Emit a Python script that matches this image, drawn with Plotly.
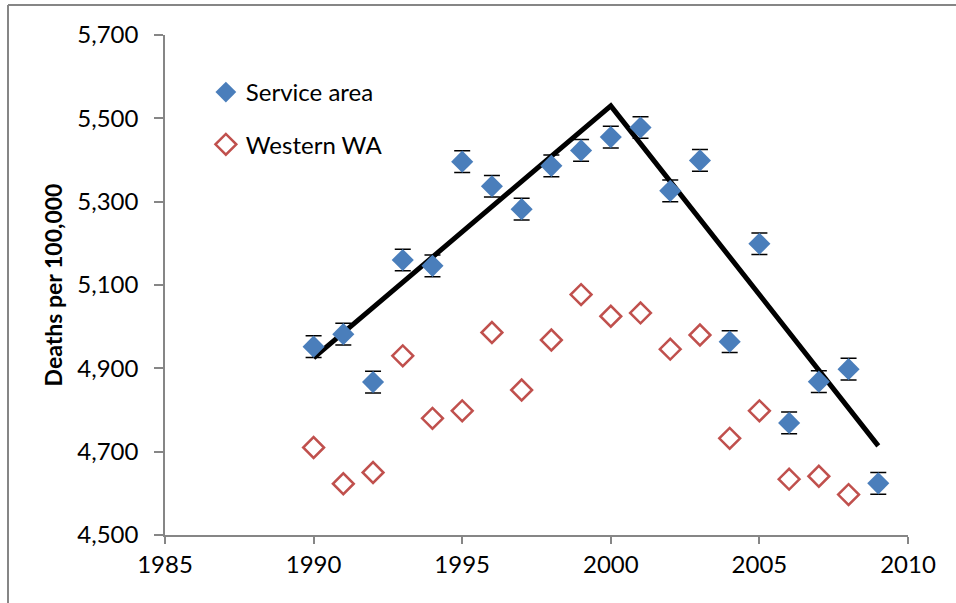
import plotly.graph_objects as go

years = list(range(1990, 2010))
service_area = [4952, 4982, 4867, 5160, 5146, 5396, 5337, 5282, 5386, 5423,
                5455, 5478, 5326, 5399, 4964, 5199, 4769, 4868, 4898, 4624]
service_err = [26] * len(service_area)

western_years = list(range(1990, 2009))
western_wa = [4710, 4623, 4650, 4930, 4780, 4798, 4986, 4848, 4968, 5077,
              5025, 5033, 4946, 4980, 4732, 4798, 4634, 4641, 4597]

trend_years = [1990, 2000, 2009]
trend_values = [4925, 5530, 4714]

FONT = "Lato"
AXIS_GRAY = "#868686"

fig = go.Figure()

fig.add_trace(go.Scatter(
    x=trend_years, y=trend_values, mode="lines",
    line=dict(color="black", width=5), showlegend=False, hoverinfo="skip",
))

fig.add_trace(go.Scatter(
    x=years, y=service_area, mode="markers", name="Service area",
    legendgroup="a",
    marker=dict(symbol="diamond", size=17, color="#4a7ebb"),
    error_y=dict(type="data", array=service_err, visible=True,
                 color="black", thickness=1.5, width=8),
))

fig.add_trace(go.Scatter(
    x=western_years, y=western_wa, mode="markers", name="Western WA",
    legendgroup="b",
    marker=dict(symbol="diamond-open", size=16, color="#c0504d",
                line=dict(width=2.5, color="#c0504d")),
))

fig.update_layout(
    width=956, height=603,
    margin=dict(l=165, r=48, t=35, b=68),
    paper_bgcolor="white", plot_bgcolor="white",
    font=dict(family=FONT, size=24, color="black"),
    showlegend=True,
    legend=dict(x=0.055, y=0.93, xanchor="left", yanchor="top",
                bgcolor="rgba(0,0,0,0)", tracegroupgap=18,
                font=dict(family=FONT, size=24, color="black")),
    xaxis=dict(range=[1985, 2010], tickvals=[1985, 1990, 1995, 2000, 2005, 2010],
               showgrid=False, zeroline=False, showline=True,
               linecolor=AXIS_GRAY, linewidth=1.5,
               ticks="outside", ticklen=7, tickcolor=AXIS_GRAY, tickwidth=1.5,
               tickfont=dict(family=FONT, size=24)),
    yaxis=dict(range=[4500, 5700], tickvals=[4500, 4700, 4900, 5100, 5300, 5500, 5700],
               tickformat=",d",
               showgrid=False, zeroline=False, showline=True,
               linecolor=AXIS_GRAY, linewidth=1.5,
               ticks="outside", ticklen=9, tickcolor=AXIS_GRAY, tickwidth=1.5,
               ticklabelstandoff=11,
               tickfont=dict(family=FONT, size=24),
               title=dict(text="<b>Deaths per 100,000</b>",
                          font=dict(family=FONT, size=23), standoff=8)),
    shapes=[
        dict(type="line", xref="paper", yref="paper",
             x0=(8 - 165) / 743, x1=(956 - 165) / 743,
             y0=1 + (35 - 5) / 500, y1=1 + (35 - 5) / 500,
             line=dict(color=AXIS_GRAY, width=2)),
        dict(type="line", xref="paper", yref="paper",
             x0=(8 - 165) / 743, x1=(8 - 165) / 743,
             y0=1 + (35 - 5) / 500, y1=-(603 - 535) / 500,
             line=dict(color=AXIS_GRAY, width=2)),
    ],
)

fig.write_html("out.html", config={"displayModeBar": False},
               post_script="document.body.style.margin='0';")
